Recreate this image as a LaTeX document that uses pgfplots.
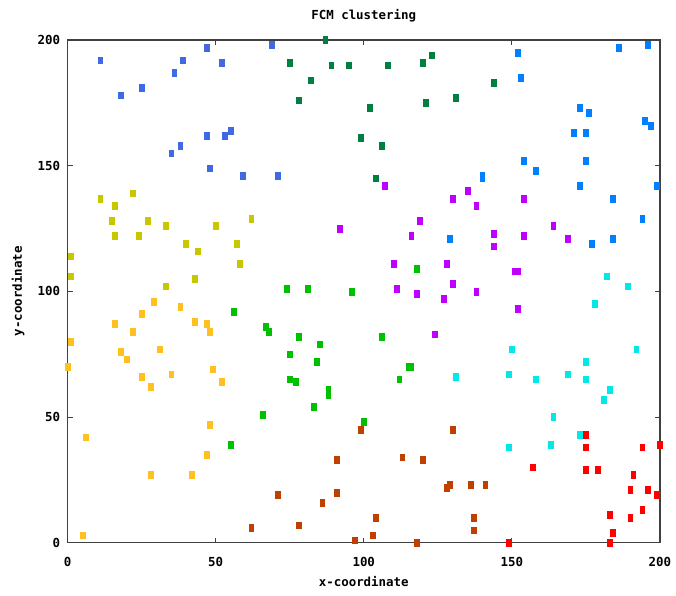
\documentclass[border=0pt]{standalone}
\usepackage{pgfplots}
\pgfplotsset{compat=1.18}
\usepackage{fontspec}
\setmainfont{DejaVu Sans Mono}

\definecolor{cRoyal}{RGB}{65,105,225}
\definecolor{cOlive}{RGB}{200,200,0}
\definecolor{cDkGreen}{RGB}{0,128,64}
\definecolor{cPurple}{RGB}{192,0,255}
\definecolor{cSky}{RGB}{0,128,255}
\definecolor{cCyan}{RGB}{0,232,232}
\definecolor{cRed}{RGB}{255,0,0}
\definecolor{cBrown}{RGB}{192,64,0}
\definecolor{cGreen}{RGB}{0,192,0}
\definecolor{cGold}{RGB}{255,192,32}

\newcommand{\gfont}{\bfseries\fontsize{12.5}{14}\selectfont}

\begin{document}
\begin{tikzpicture}
\useasboundingbox (-67.6bp,-53.3bp) rectangle (608.4bp,542.7bp);
\begin{axis}[
    at={(0,0)}, anchor=south west,
    scale only axis,
    width=592.3bp, height=502.7bp,
    xmin=0, xmax=200, ymin=0, ymax=200,
    xtick={0,50,...,200}, ytick={0,50,...,200},
    tick align=inside,
    major tick length=5bp,
    every tick/.style={black!75, line width=1bp},
    axis line style={black!75, line width=1.2bp},
    /pgf/number format/assume math mode=true,
    tick label style={font=\gfont},
    xticklabel style={anchor=center, yshift=-19.5bp},
    yticklabel style={anchor=east, xshift=-4bp},
    xlabel={x-coordinate},
    ylabel={y-coordinate},
    xlabel style={font=\gfont, at={(axis description cs:0.5,-0.078)}, anchor=center},
    ylabel style={font=\gfont, at={(axis description cs:-0.0837,0.5)}, anchor=center},
    clip=false,
    every axis plot/.append style={only marks, mark=square*, mark size=2.4bp,
        mark options={yscale=1.4}},
]
% royal blue cluster
\addplot[cRoyal] coordinates {
 (11,192) (18,178) (25,181) (36,187) (39,192) (47,197) (47,162) (38,158)
 (35,155) (48,149) (52,191) (69,198) (53,162) (55,164) (59,146) (71,146)
};
% olive cluster
\addplot[cOlive] coordinates {
 (11,137) (16,134) (22,139) (15,128) (27,128) (33,126) (16,122) (24,122)
 (40,119) (44,116) (1,114) (1,106) (43,105) (33,102) (50,126) (62,129)
 (57,119) (58,111)
};
% dark green cluster
\addplot[cDkGreen] coordinates {
 (87,200) (75,191) (89,190) (95,190) (82,184) (78,176) (99,161) (108,190)
 (120,191) (123,194) (144,183) (102,173) (121,175) (131,177) (106,158) (104,145)
};
% purple cluster
\addplot[cPurple] coordinates {
 (92,125) (107,142) (130,137) (135,140) (138,134) (119,128) (116,122) (144,123)
 (144,118) (110,111) (128,111) (151,108) (152,108) (111,101) (118,99) (130,103)
 (138,100) (127,97) (124,83) (154,137) (164,126) (154,122) (169,121) (152,93)
};
% sky blue cluster
\addplot[cSky] coordinates {
 (140,145) (140,146) (129,121) (152,195) (186,197) (196,198) (153,185) (173,173)
 (176,171) (195,168) (197,166) (171,163) (175,163) (154,152) (175,152) (158,148)
 (173,142) (199,142) (184,137) (194,129) (177,119) (184,121)
};
% cyan cluster
\addplot[cCyan] coordinates {
 (182,106) (189,102) (178,95) (150,77) (192,77) (175,72) (149,67) (158,65)
 (169,67) (175,65) (183,61) (181,57) (164,50) (173,43) (149,38) (163,39)
 (131,66)
};
% red cluster
\addplot[cRed] coordinates {
 (175,43) (175,38) (194,38) (200,39) (157,30) (175,29) (179,29) (191,27)
 (190,21) (196,21) (199,19) (183,11) (190,10) (194,13) (184,4) (183,0)
 (149,0)
};
% brown cluster
\addplot[cBrown] coordinates {
 (99,45) (130,45) (113,34) (120,33) (128,22) (129,23) (136,23) (141,23)
 (104,10) (103,3) (137,10) (137,5) (118,0) (97,1) (91,33) (91,20)
 (71,19) (86,16) (62,6) (78,7)
};
% green cluster
\addplot[cGreen] coordinates {
 (74,101) (81,101) (96,100) (56,92) (67,86) (68,84) (78,82) (85,79)
 (75,75) (84,72) (75,65) (77,64) (88,61) (88,59) (83,54) (66,51)
 (55,39) (100,48) (106,82) (115,70) (116,70) (112,65) (118,109)
};
% gold cluster
\addplot[cGold] coordinates {
 (29,96) (38,94) (25,91) (16,87) (43,88) (47,87) (48,84) (22,84)
 (1,80) (18,76) (31,77) (20,73) (49,69) (0,70) (25,66) (35,67)
 (28,62) (48,47) (6,42) (47,35) (28,27) (42,27) (5,3) (52,64)
};
\node[font=\gfont, anchor=center] at (rel axis cs:0.5,1) [yshift=24bp] {FCM clustering};
\end{axis}
\end{tikzpicture}
\end{document}
